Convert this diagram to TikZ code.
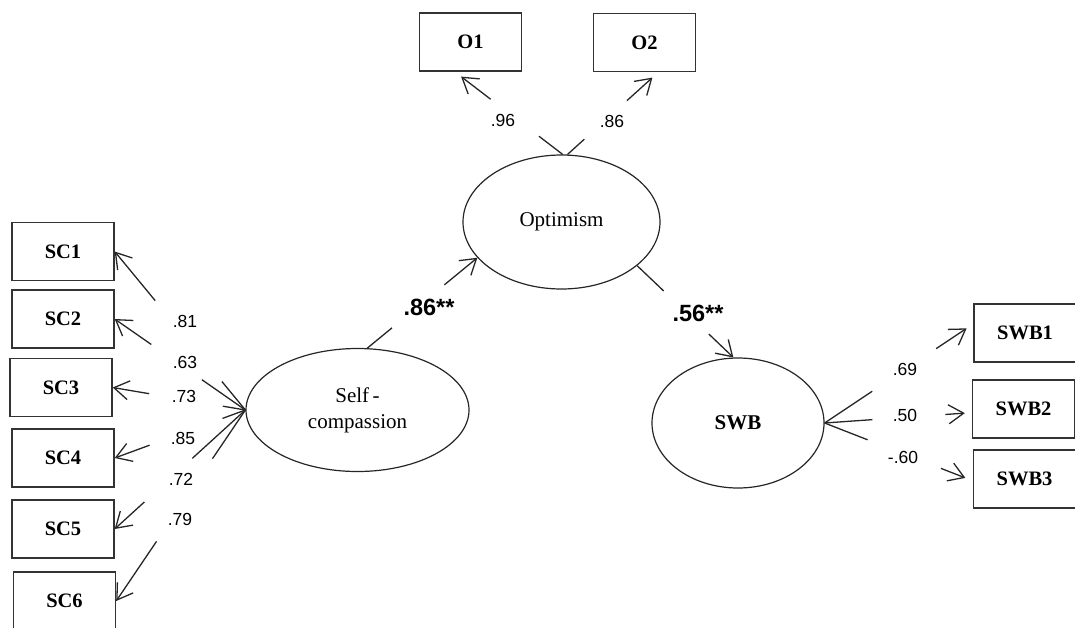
\documentclass[tikz,border=0pt]{standalone}
\usepackage{fontspec}
\setmainfont{Liberation Serif}
\setsansfont{Liberation Sans}
\usetikzlibrary{shapes.geometric,arrows.meta,calc}
\tikzset{
  indicator/.style = {shape=rectangle, draw=black!80, line width=1.4pt,
                      minimum width=102pt, minimum height=58pt, inner sep=0pt,
                      font=\fontsize{20.5}{24}\selectfont\bfseries},
  latent/.style    = {shape=ellipse, draw=black!85, line width=1.2pt,
                      inner sep=0pt, align=center,
                      font=\fontsize{21}{26}\selectfont},
  loading/.style   = {font=\sffamily\fontsize{17.5}{20}\selectfont},
  coef/.style      = {font=\sffamily\bfseries\fontsize{23.5}{26}\selectfont},
  link/.style      = {draw=black!85, line width=1.3pt,
                      -{Straight Barb[length=15pt,width=19pt]}},
}
% loading arrow, broken where its number sits
\newcommand{\gaparrow}[5][]{%
  \draw[link,#1] (#2) -- ($(#2)!#4!(#3)$) ($(#2)!#5!(#3)$) -- (#3);}

\begin{document}
\begin{tikzpicture}[x=1pt, y=-1pt]
	\useasboundingbox (0,0) rectangle (1075,627);
	\clip (0,0) rectangle (1075,627);

	% latent variables
	\node [latent, minimum width=197pt, minimum height=134pt] (opt) at (561.5,222) {Optimism};
	\node [latent, minimum width=223pt, minimum height=123pt] (sc) at (357.5,410) {Self\,-\\compassion};
	\node [latent, minimum width=172pt, minimum height=130pt, font=\fontsize{21}{26}\selectfont\bfseries] (swb) at (738,423) {SWB};

	% indicators
	\node [indicator] (o1) at (470.5,42) {O1};
	\node [indicator] (o2) at (644.5,42.5) {O2};
	\node [indicator] (sc1) at (63,251.5) {SC1};
	\node [indicator] (sc2) at (63,319) {SC2};
	\node [indicator] (sc3) at (61,387.5) {SC3};
	\node [indicator] (sc4) at (63,458) {SC4};
	\node [indicator] (sc5) at (63,529) {SC5};
	\node [indicator] (sc6) at (64.5,601) {SC6};
	\node [indicator] (swb1) at (1025,333) {SWB1};
	\node [indicator] (swb2) at (1023.5,409) {SWB2};
	\node [indicator] (swb3) at (1024.5,479) {SWB3};

	% structural paths
	\gaparrow{sc.81}{opt.203}{.225}{.70}
	\gaparrow{opt.330}{swb.94}{.276}{.745}
	\node [coef] (b1) at (429,307) {.86**};
	\node [coef] (b2) at (698,313) {.56**};

	% optimism loadings
	\gaparrow[shorten >=8pt]{opt.89}{o1.242}{.22}{.667}
	\gaparrow[shorten >=8pt]{opt.85}{o2.295}{.186}{.655}
	\node [loading] (lo1) at (503,120) {.96};
	\node [loading] (lo2) at (612,121) {.86};

	% self-compassion loadings
	\gaparrow{sc.west}{sc1.east}{.18}{.69}
	\gaparrow{sc.west}{sc2.east}{.333}{.72}
	\gaparrow{sc.west}{sc3.east}{.17}{.725}
	\gaparrow{sc.west}{sc4.east}{.175}{.733}
	\gaparrow{sc.west}{sc5.east}{.406}{.773}
	\gaparrow{sc.west}{sc6.east}{.255}{.6875}
	\node [loading] (ls1) at (185,321) {.81};
	\node [loading] (ls2) at (185,362) {.63};
	\node [loading] (ls3) at (184,396) {.73};
	\node [loading] (ls4) at (183,438) {.85};
	\node [loading] (ls5) at (181,479) {.72};
	\node [loading] (ls6) at (180,519) {.79};

	% SWB loadings
	\gaparrow[shorten >=8pt]{swb.east}{swb1.170}{.32}{.75}
	\gaparrow[shorten >=7pt]{swb.east}{swb2.184}{.324}{.82}
	\gaparrow[shorten >=8pt]{swb.east}{swb3.182}{.29}{.785}
	\node [loading] (lw1) at (905,369) {.69};
	\node [loading] (lw2) at (905,415) {.50};
	\node [loading] (lw3) at (903,457) {-.60};
\end{tikzpicture}
\end{document}
